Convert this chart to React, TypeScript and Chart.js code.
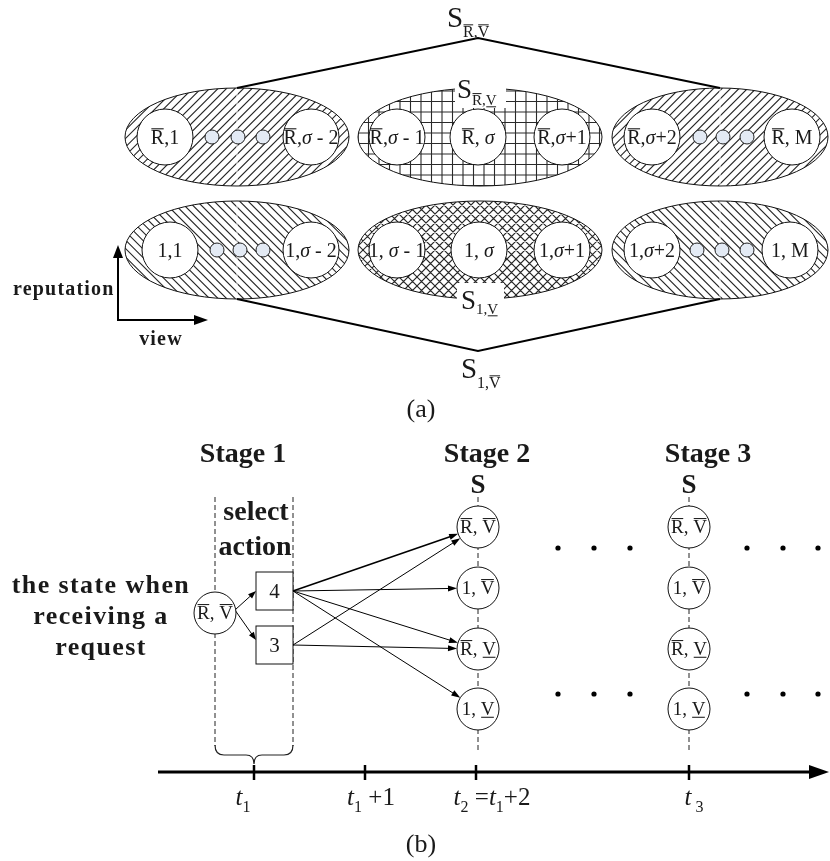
import { useEffect, useRef } from "react";
import { Chart, registerables } from "chart.js";
Chart.register(...registerables);

// ---------------- (a) state-space diagram ----------------
const ROW_Y = [137, 250];
const GROUP_CX = [237, 480, 720];
const GROUP_RX = [112, 122, 108];
const GROUP_RY = 49;
const HATCH_TOP = ["fwd", "grid", "fwd"];
const HATCH_BOTTOM = ["back", "cross", "back"];
const TOP_STATE_X = [165, 311, 397, 478, 562, 652, 792];
const BOTTOM_STATE_X = [170, 311, 397, 479, 562, 652, 790];
const TOP_STATE_LABELS = ["^R,1", "^R,σ - 2", "^R,σ - 1", "^R, σ", "^R,σ+1", "^R,σ+2", "^R, M"];
const BOTTOM_STATE_LABELS = ["1,1", "1,σ - 2", "1, σ - 1", "1, σ", "1,σ+1", "1,σ+2", "1, M"];
const TOP_DOT_X = [212, 238, 263, 700, 723, 747];
const BOTTOM_DOT_X = [217, 240, 263, 697, 722, 747];
const AGG_TOP = { x: 478, y: 38, sub: "^R,^V" };
const AGG_BOTTOM = { x: 478, y: 351, sub: "1,^V" };
const INNER_TOP_SUB = "^R,_V";
const INNER_BOTTOM_SUB = "1,_V";

// ---------------- (b) decision timeline ----------------
const STAGE_NAMES = ["Stage 1", "Stage 2", "Stage 3"];
const STAGE_NAME_X = [243, 487, 708];
const STAGE_COL_X = [478, 689];
const STAGE_STATE_Y = [527, 588, 649, 709];
const STAGE_STATE_LABELS = ["^R, ^V", "1, ^V", "^R, _V", "1, _V"];
const INPUT_STATE = { x: 215, y: 613, label: "^R, ^V" };
const ACTION_LABELS = ["4", "3"];
const ACTION_X = 274.5;
const ACTION_Y = [591, 645];
const ACTION_TARGETS = [[0, 1, 2, 3], [0, 2]];
const TIME_TICKS = [254, 365, 476, 689];
const TIME_LABELS = ["t{1}", "t{1} +1", "t{2} =t{1}+2", "t{ 3}"];
const TIME_LABEL_X = [243, 371, 492, 694];
const ELLIPSIS_X = [558, 594, 630, 747, 783, 818];
const ELLIPSIS_Y = [548, 694];
const CAPTION_LINES = ["the state when", "receiving a", "request"];

const SERIF = '"Liberation Serif", "Times New Roman", serif';

type Seg = { ch: string; it: boolean; sub: boolean; over: boolean; under: boolean };
function parseRich(s: string, italicT: boolean): Seg[] {
  const out: Seg[] = [];
  let sub = false, over = false, under = false;
  for (const ch of s) {
    if (ch === "{") { sub = true; continue; }
    if (ch === "}") { sub = false; continue; }
    if (ch === "^") { over = true; continue; }
    if (ch === "_") { under = true; continue; }
    out.push({ ch, it: ch === "σ" || (italicT && ch === "t"), sub, over, under });
    over = false; under = false;
  }
  return out;
}

function drawRich(
  ctx: CanvasRenderingContext2D, s: string, x: number, baseline: number, size: number,
  align: "left" | "center", italicT = false, color = "#1a1a1a"
) {
  const segs = parseRich(s, italicT);
  const fontFor = (g: Seg) => `${g.it ? "italic " : ""}${g.sub ? Math.round(size * 0.62) : size}px ${SERIF}`;
  const widths = segs.map((g) => { ctx.font = fontFor(g); return ctx.measureText(g.ch).width; });
  const total = widths.reduce((a, b) => a + b, 0);
  let cx = align === "center" ? x - total / 2 : x;
  ctx.fillStyle = color;
  ctx.strokeStyle = color;
  ctx.textAlign = "left";
  ctx.textBaseline = "alphabetic";
  segs.forEach((g, i) => {
    ctx.font = fontFor(g);
    const by = baseline + (g.sub ? size * 0.28 : 0);
    ctx.fillText(g.ch, cx, by);
    ctx.lineWidth = Math.max(1, size / 18);
    if (g.over) {
      const oy = by - size * 0.76;
      ctx.beginPath(); ctx.moveTo(cx + 0.5, oy); ctx.lineTo(cx + widths[i] - 0.5, oy); ctx.stroke();
    }
    if (g.under) {
      const uy = by + size * 0.12;
      ctx.beginPath(); ctx.moveTo(cx + 0.5, uy); ctx.lineTo(cx + widths[i] - 0.5, uy); ctx.stroke();
    }
    cx += widths[i];
  });
}

function arrowHead(ctx: CanvasRenderingContext2D, x1: number, y1: number, x2: number, y2: number, len: number, half: number) {
  const a = Math.atan2(y2 - y1, x2 - x1);
  const bx = x2 - len * Math.cos(a), by = y2 - len * Math.sin(a);
  ctx.beginPath();
  ctx.moveTo(x2, y2);
  ctx.lineTo(bx + half * Math.sin(a), by - half * Math.cos(a));
  ctx.lineTo(bx - half * Math.sin(a), by + half * Math.cos(a));
  ctx.closePath();
  ctx.fill();
}

function arrow(ctx: CanvasRenderingContext2D, x1: number, y1: number, x2: number, y2: number, lw: number, len: number, half: number) {
  const a = Math.atan2(y2 - y1, x2 - x1);
  ctx.lineWidth = lw;
  ctx.beginPath();
  ctx.moveTo(x1, y1);
  ctx.lineTo(x2 - len * 0.8 * Math.cos(a), y2 - len * 0.8 * Math.sin(a));
  ctx.stroke();
  arrowHead(ctx, x1, y1, x2, y2, len, half);
}

const diagramPlugin = {
  id: "diagram",
  beforeDatasetsDraw(chart: any) {
    const ctx: CanvasRenderingContext2D = chart.ctx;
    const X = (v: number) => chart.scales.x.getPixelForValue(v);
    const Y = (v: number) => chart.scales.y.getPixelForValue(v);
    ctx.save();
    // hatched ellipses
    ROW_Y.forEach((ry, r) => {
      GROUP_CX.forEach((gx, g) => {
        const cx = X(gx), cy = Y(ry);
        const rx = Math.abs(X(gx + GROUP_RX[g]) - cx);
        const rr = Math.abs(Y(ry + GROUP_RY) - cy);
        const kind = r === 0 ? HATCH_TOP[g] : HATCH_BOTTOM[g];
        ctx.save();
        ctx.beginPath();
        ctx.ellipse(cx, cy, rx, rr, 0, 0, Math.PI * 2);
        ctx.fillStyle = "#fff";
        ctx.fill();
        ctx.clip();
        ctx.strokeStyle = "#2a2a2a";
        ctx.lineWidth = 1.1;
        const x0 = cx - rx, x1 = cx + rx, y0 = cy - rr, y1 = cy + rr;
        const H = y1 - y0;
        ctx.beginPath();
        if (kind === "fwd" || kind === "back" || kind === "cross") {
          const step = kind === "cross" ? 9 : 8.5;
          for (let k = x0 - H; k <= x1 + H; k += step) {
            if (kind === "fwd" || kind === "cross") { ctx.moveTo(k, y1); ctx.lineTo(k + H, y0); }
            if (kind === "back" || kind === "cross") { ctx.moveTo(k, y0); ctx.lineTo(k + H, y1); }
          }
        } else {
          const step = 10.5;
          for (let k = x0; k <= x1; k += step) { ctx.moveTo(k, y0); ctx.lineTo(k, y1); }
          for (let k = y0 + 3; k <= y1; k += step) { ctx.moveTo(x0, k); ctx.lineTo(x1, k); }
        }
        ctx.stroke();
        if (kind === "fwd" || kind === "back") {
          ctx.strokeStyle = "#fff";
          ctx.lineWidth = 1;
          ctx.beginPath(); ctx.moveTo(cx, y0); ctx.lineTo(cx, y1); ctx.stroke();
        }
        ctx.restore();
        ctx.beginPath();
        ctx.ellipse(cx, cy, rx, rr, 0, 0, Math.PI * 2);
        ctx.strokeStyle = "#111";
        ctx.lineWidth = 1;
        ctx.stroke();
      });
    });
    // aggregation lines
    ctx.strokeStyle = "#000";
    ctx.lineWidth = 2;
    [[AGG_TOP, ROW_Y[0] - GROUP_RY], [AGG_BOTTOM, ROW_Y[1] + GROUP_RY]].forEach(([a, ey]: any) => {
      ctx.beginPath();
      ctx.moveTo(X(GROUP_CX[0]), Y(ey));
      ctx.lineTo(X(a.x), Y(a.y));
      ctx.lineTo(X(GROUP_CX[2]), Y(ey));
      ctx.stroke();
    });
    // reputation / view axes
    ctx.fillStyle = "#000";
    ctx.lineWidth = 2;
    arrow(ctx, X(118), Y(320), X(118), Y(245), 2, 13, 5);
    arrow(ctx, X(117), Y(320), X(208), Y(320), 2, 14, 5);

    // ---- (b) ----
    ctx.strokeStyle = "#222";
    ctx.lineWidth = 1;
    ctx.setLineDash([5, 3]);
    [INPUT_STATE.x, ACTION_X + 18.5].forEach((dx) => {
      ctx.beginPath(); ctx.moveTo(X(dx), Y(497)); ctx.lineTo(X(dx), Y(746)); ctx.stroke();
    });
    STAGE_COL_X.forEach((cx) => {
      ctx.beginPath(); ctx.moveTo(X(cx), Y(497)); ctx.lineTo(X(cx), Y(751)); ctx.stroke();
    });
    ctx.setLineDash([]);
    // brace
    const bl = X(INPUT_STATE.x), br = X(ACTION_X + 18.5), bm = X(TIME_TICKS[0]);
    ctx.lineWidth = 1.2;
    ctx.beginPath();
    ctx.moveTo(bl, Y(745));
    ctx.quadraticCurveTo(bl, Y(755), bl + 9, Y(755));
    ctx.lineTo(bm - 8, Y(755));
    ctx.quadraticCurveTo(bm, Y(755), bm, Y(764));
    ctx.quadraticCurveTo(bm, Y(755), bm + 8, Y(755));
    ctx.lineTo(br - 9, Y(755));
    ctx.quadraticCurveTo(br, Y(755), br, Y(745));
    ctx.stroke();
    // time axis
    ctx.strokeStyle = "#000";
    ctx.fillStyle = "#000";
    arrow(ctx, X(158), Y(772), X(829), Y(772), 3, 20, 7);
    ctx.lineWidth = 2.5;
    TIME_TICKS.forEach((t) => {
      ctx.beginPath(); ctx.moveTo(X(t), Y(765)); ctx.lineTo(X(t), Y(780)); ctx.stroke();
    });
    // input -> actions
    const rIn = 21;
    ACTION_Y.forEach((ay) => {
      const sx = X(INPUT_STATE.x + rIn * 0.95), sy = Y(INPUT_STATE.y - 3);
      arrow(ctx, sx, sy, X(ACTION_X - 18.5), Y(ay + (ay < INPUT_STATE.y ? 0 : -5)), 1, 8, 3);
    });
    // action boxes
    ACTION_Y.forEach((ay) => {
      ctx.fillStyle = "#fff";
      ctx.strokeStyle = "#111";
      ctx.lineWidth = 1;
      const x0 = X(ACTION_X - 18.5), x1 = X(ACTION_X + 18.5), y0 = Y(ay - 19), y1 = Y(ay + 19);
      ctx.fillRect(x0, y0, x1 - x0, y1 - y0);
      ctx.strokeRect(x0, y0, x1 - x0, y1 - y0);
    });
    // action -> next-stage arrows
    ctx.fillStyle = "#000";
    ctx.strokeStyle = "#000";
    ACTION_TARGETS.forEach((targets, ai) => {
      targets.forEach((ti) => {
        const sx = X(ACTION_X + 18.5), sy = Y(ACTION_Y[ai]);
        const tx = X(STAGE_COL_X[0]), ty = Y(STAGE_STATE_Y[ti]);
        const a = Math.atan2(ty - sy, tx - sx);
        const ex = tx - 21 * Math.cos(a), ey = ty - 21 * Math.sin(a);
        arrow(ctx, sx, sy, ex, ey, ai === 0 && ti === 0 ? 1.6 : 1, 9, 3);
      });
    });
    ctx.restore();
  },
  afterDatasetsDraw(chart: any) {
    const ctx: CanvasRenderingContext2D = chart.ctx;
    const X = (v: number) => chart.scales.x.getPixelForValue(v);
    const Y = (v: number) => chart.scales.y.getPixelForValue(v);
    ctx.save();
    // state labels in ellipses
    TOP_STATE_X.forEach((x, i) => drawRich(ctx, TOP_STATE_LABELS[i], X(x), Y(ROW_Y[0] + 7), 20, "center"));
    BOTTOM_STATE_X.forEach((x, i) => drawRich(ctx, BOTTOM_STATE_LABELS[i], X(x), Y(ROW_Y[1] + 7), 20, "center"));
    // inner aggregated labels with white backing
    ctx.fillStyle = "#fff";
    ctx.fillRect(X(455), Y(79), X(506) - X(455), Y(108) - Y(79));
    ctx.fillRect(X(457), Y(283), X(504) - X(457), Y(316) - Y(283));
    ctx.fillStyle = "#1a1a1a";
    ctx.font = `27px ${SERIF}`;
    ctx.textAlign = "left";
    ctx.textBaseline = "alphabetic";
    ctx.fillText("S", X(457), Y(98));
    drawRich(ctx, INNER_TOP_SUB, X(472), Y(105), 15, "left");
    ctx.font = `27px ${SERIF}`;
    ctx.fillText("S", X(461), Y(309));
    drawRich(ctx, INNER_BOTTOM_SUB, X(476), Y(314), 15, "left");
    // outer aggregated labels
    ctx.font = `29px ${SERIF}`;
    ctx.fillText("S", X(447), Y(27));
    drawRich(ctx, AGG_TOP.sub, X(463), Y(37), 16, "left");
    ctx.font = `29px ${SERIF}`;
    ctx.fillText("S", X(461), Y(378));
    drawRich(ctx, AGG_BOTTOM.sub, X(477), Y(388), 16, "left");
    // axes labels
    ctx.fillStyle = "#1a1a1a";
    ctx.font = `bold 20px ${SERIF}`;
    (ctx as any).letterSpacing = "1.2px";
    ctx.fillText("reputation", X(13), Y(295));
    ctx.textAlign = "center";
    ctx.fillText("view", X(161), Y(345));
    (ctx as any).letterSpacing = "0px";
    ctx.font = `26px ${SERIF}`;
    ctx.fillText("(a)", X(421), Y(417));
    ctx.fillText("(b)", X(421), Y(852));

    // ---- (b) texts ----
    ctx.font = `bold 28px ${SERIF}`;
    STAGE_NAMES.forEach((n, i) => ctx.fillText(n, X(STAGE_NAME_X[i]), Y(462)));
    ctx.font = `bold 27px ${SERIF}`;
    STAGE_COL_X.forEach((cx) => ctx.fillText("S", X(cx), Y(493)));
    ctx.font = `bold 28px ${SERIF}`;
    ctx.fillText("select", X(256), Y(520));
    ctx.fillText("action", X(255), Y(555));
    ctx.font = `bold 26px ${SERIF}`;
    (ctx as any).letterSpacing = "1.4px";
    CAPTION_LINES.forEach((l, i) => ctx.fillText(l, X(101), Y(593 + i * 31)));
    (ctx as any).letterSpacing = "0px";
    // action numbers
    ctx.font = `21px ${SERIF}`;
    ACTION_Y.forEach((ay, i) => ctx.fillText(ACTION_LABELS[i], X(ACTION_X), Y(ay + 7)));
    // state labels
    drawRich(ctx, INPUT_STATE.label, X(INPUT_STATE.x), Y(INPUT_STATE.y + 6), 19, "center");
    STAGE_COL_X.forEach((cx) => {
      STAGE_STATE_Y.forEach((sy, i) => drawRich(ctx, STAGE_STATE_LABELS[i], X(cx), Y(sy + 6), 19, "center"));
    });
    // time labels
    TIME_LABELS.forEach((l, i) => drawRich(ctx, l, X(TIME_LABEL_X[i]), Y(805), 25, "center", true));
    ctx.restore();
  },
};

export default function App() {
  const ref = useRef<HTMLCanvasElement | null>(null);
  useEffect(() => {
    document.body.style.margin = "0";
    const canvas = ref.current!;
    const chart = new Chart(canvas, {
      type: "scatter",
      data: {
        datasets: [
          {
            data: [
              ...TOP_STATE_X.map((x) => ({ x, y: ROW_Y[0] })),
              ...BOTTOM_STATE_X.map((x) => ({ x, y: ROW_Y[1] })),
            ],
            pointRadius: 28,
            pointBackgroundColor: "#fff",
            pointBorderColor: "#111",
            pointBorderWidth: 1,
          },
          {
            data: [
              ...TOP_DOT_X.map((x) => ({ x, y: ROW_Y[0] })),
              ...BOTTOM_DOT_X.map((x) => ({ x, y: ROW_Y[1] })),
            ],
            pointRadius: 7,
            pointBackgroundColor: "#e3eaf4",
            pointBorderColor: "#222",
            pointBorderWidth: 1,
          },
          {
            data: [
              { x: INPUT_STATE.x, y: INPUT_STATE.y },
              ...STAGE_COL_X.flatMap((x) => STAGE_STATE_Y.map((y) => ({ x, y }))),
            ],
            pointRadius: 21,
            pointBackgroundColor: "#fff",
            pointBorderColor: "#111",
            pointBorderWidth: 1,
          },
          {
            data: ELLIPSIS_Y.flatMap((y) => ELLIPSIS_X.map((x) => ({ x, y }))),
            pointRadius: 2.6,
            pointBackgroundColor: "#000",
            pointBorderColor: "#000",
            pointBorderWidth: 0,
          },
        ],
      },
      options: {
        animation: false,
        responsive: false,
        maintainAspectRatio: false,
        events: [],
        layout: { padding: 0, autoPadding: false },
        plugins: { legend: { display: false }, tooltip: { enabled: false } },
        scales: {
          x: { type: "linear", min: 0, max: 830, display: false },
          y: { type: "linear", min: 0, max: 861, reverse: true, display: false },
        },
      },
      plugins: [diagramPlugin],
    } as any);
    return () => chart.destroy();
  }, []);
  return (
    <div style={{ width: 830, height: 861, background: "#fff" }}>
      <canvas ref={ref} width={830} height={861} style={{ display: "block" }} />
    </div>
  );
}
